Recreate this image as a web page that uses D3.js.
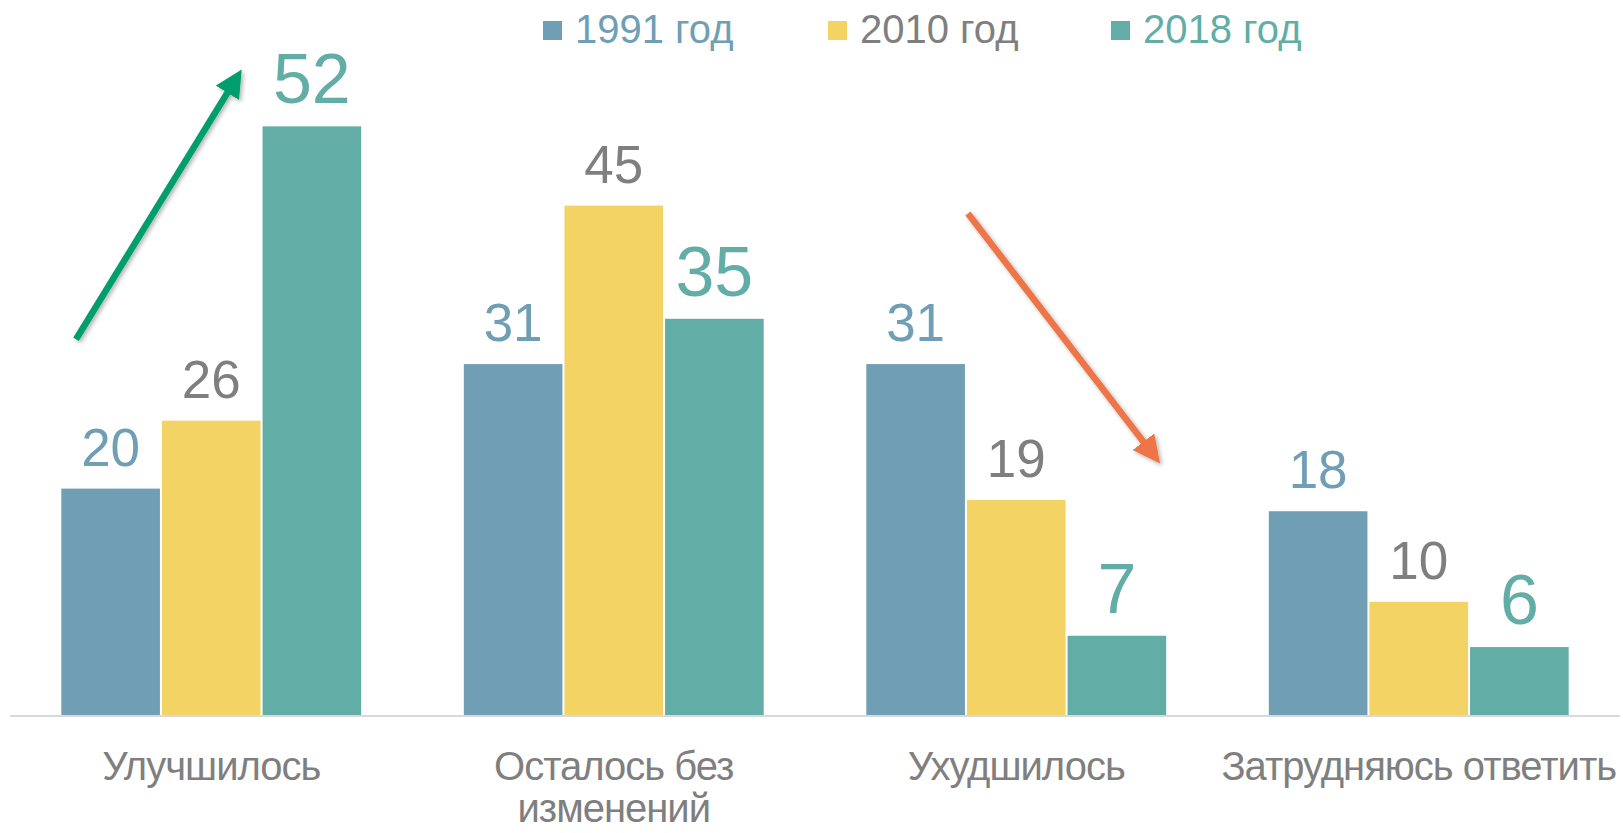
<!DOCTYPE html>
<html>
<head>
<meta charset="utf-8">
<script src="https://cdn.jsdelivr.net/npm/d3@7"></script>
<style>
  html, body { margin: 0; padding: 0; background: #fff; }
  svg { display: block; font-family: "Liberation Sans", Arial, sans-serif; }
</style>
</head>
<body>
<div id="chart"></div>
<script>
// categories and series
let categories = ['Улучшилось', 'Осталось без изменений', 'Ухудшилось', 'Затрудняюсь ответить'];
let seriesNames = ['1991 год', '2010 год', '2018 год'];
let values1991 = [20, 31, 31, 18];
let values2010 = [26, 45, 19, 10];
let values2018 = [52, 35, 7, 6];

let barColors = ['#709EB4', '#F2D364', '#62ADA6'];
let textColors = ['#709EB4', '#7F7F7F', '#62ADA6'];

// trend arrows, in (category index, value) coordinates
let arrows = [
  {from: [0.164, 33.2], to: [0.565, 56.4], color: '#009E6C'},
  {from: [2.380, 44.3], to: [2.845, 22.8], color: '#EE7447'}
];

let width = 1623, height = 833;
let baseY = 715;

let svg = d3.select('#chart').append('svg')
  .attr('width', width)
  .attr('height', height);

let x0 = d3.scaleBand()
  .domain(categories)
  .range([10, 1620])
  .paddingInner(0.255)
  .paddingOuter(0.1275);

let x1 = d3.scaleBand()
  .domain(seriesNames)
  .range([0, x0.bandwidth()])
  .paddingInner(0.02);

let y = d3.scaleLinear()
  .domain([0, 60])
  .range([baseY, baseY - 60 * 11.32]);

let xIdx = d3.scaleLinear().domain([0, 4]).range([10, 1620]);

let rows = categories.map((c, i) => ({
  cat: c,
  vals: [values1991[i], values2010[i], values2018[i]]
}));

// baseline
svg.append('line')
  .attr('x1', 10).attr('x2', 1620)
  .attr('y1', baseY + 1).attr('y2', baseY + 1)
  .attr('stroke', '#D9D9D9')
  .attr('stroke-width', 2);

let groups = svg.selectAll('.grp')
  .data(rows)
  .enter().append('g')
  .attr('class', 'grp')
  .attr('transform', d => `translate(${x0(d.cat)},0)`);

groups.selectAll('rect')
  .data(d => d.vals.map((v, j) => ({s: seriesNames[j], v: v, j: j})))
  .enter().append('rect')
  .attr('x', d => x1(d.s))
  .attr('y', d => y(d.v))
  .attr('width', x1.bandwidth())
  .attr('height', d => baseY - y(d.v))
  .attr('fill', d => barColors[d.j]);

groups.selectAll('.lbl')
  .data(d => d.vals.map((v, j) => ({s: seriesNames[j], v: v, j: j})))
  .enter().append('text')
  .attr('class', 'lbl')
  .attr('x', d => x1(d.s) + x1.bandwidth() / 2)
  .attr('y', d => y(d.v) - 23)
  .attr('text-anchor', 'middle')
  .attr('font-size', d => d.j === 2 ? 70 : 53)
  .attr('fill', d => textColors[d.j])
  .text(d => d.v);

// category labels
let catLabels = svg.selectAll('.cat')
  .data(categories)
  .enter().append('text')
  .attr('class', 'cat')
  .attr('x', d => x0(d) + x0.bandwidth() / 2)
  .attr('y', 780)
  .attr('text-anchor', 'middle')
  .attr('font-size', 40)
  .attr('letter-spacing', -1)
  .attr('fill', '#7F7F7F')
  .text(d => d)
  .call(wrap, x0.step() + 10);

function wrap(sel, w) {
  sel.each(function() {
    let t = d3.select(this);
    let words = t.text().split(' ');
    let xx = t.attr('x');
    t.text(null);
    let line = [];
    let ts = t.append('tspan').attr('x', xx).attr('dy', 0);
    words.forEach(word => {
      line.push(word);
      ts.text(line.join(' '));
      if (ts.node().getComputedTextLength() > w && line.length > 1) {
        line.pop();
        ts.text(line.join(' '));
        line = [word];
        ts = t.append('tspan').attr('x', xx).attr('dy', 42).text(word);
      }
    });
  });
}

// legend
let legendX = [543, 828, 1111];
let legend = svg.selectAll('.legend')
  .data(seriesNames)
  .enter().append('g')
  .attr('class', 'legend')
  .attr('transform', (d, i) => `translate(${legendX[i]},0)`);

legend.append('rect')
  .attr('x', 0).attr('y', 21)
  .attr('width', 19).attr('height', 19)
  .attr('fill', (d, i) => barColors[i]);

legend.append('text')
  .attr('x', 32).attr('y', 43)
  .attr('font-size', 40)
  .attr('fill', (d, i) => textColors[i])
  .text(d => d);

// arrows
let defs = svg.append('defs');
let shadow = defs.append('filter').attr('id', 'shadow')
  .attr('x', '-20%').attr('y', '-20%').attr('width', '140%').attr('height', '140%');
shadow.append('feDropShadow')
  .attr('dx', 2).attr('dy', 2).attr('stdDeviation', 2)
  .attr('flood-color', '#000').attr('flood-opacity', 0.3);

arrows.forEach((a, i) => {
  defs.append('marker')
    .attr('id', 'head' + i)
    .attr('viewBox', '0 0 10 10')
    .attr('refX', 7).attr('refY', 5)
    .attr('markerWidth', 4.2).attr('markerHeight', 4.2)
    .attr('markerUnits', 'strokeWidth')
    .attr('orient', 'auto')
    .append('path')
    .attr('d', 'M0,0 L10,5 L0,10 Z')
    .attr('fill', a.color);

  svg.append('line')
    .attr('x1', xIdx(a.from[0])).attr('y1', y(a.from[1]))
    .attr('x2', xIdx(a.to[0])).attr('y2', y(a.to[1]))
    .attr('stroke', a.color)
    .attr('stroke-width', 6.5)
    .attr('marker-end', `url(#head${i})`)
    .attr('filter', 'url(#shadow)');
});
</script>
</body>
</html>
